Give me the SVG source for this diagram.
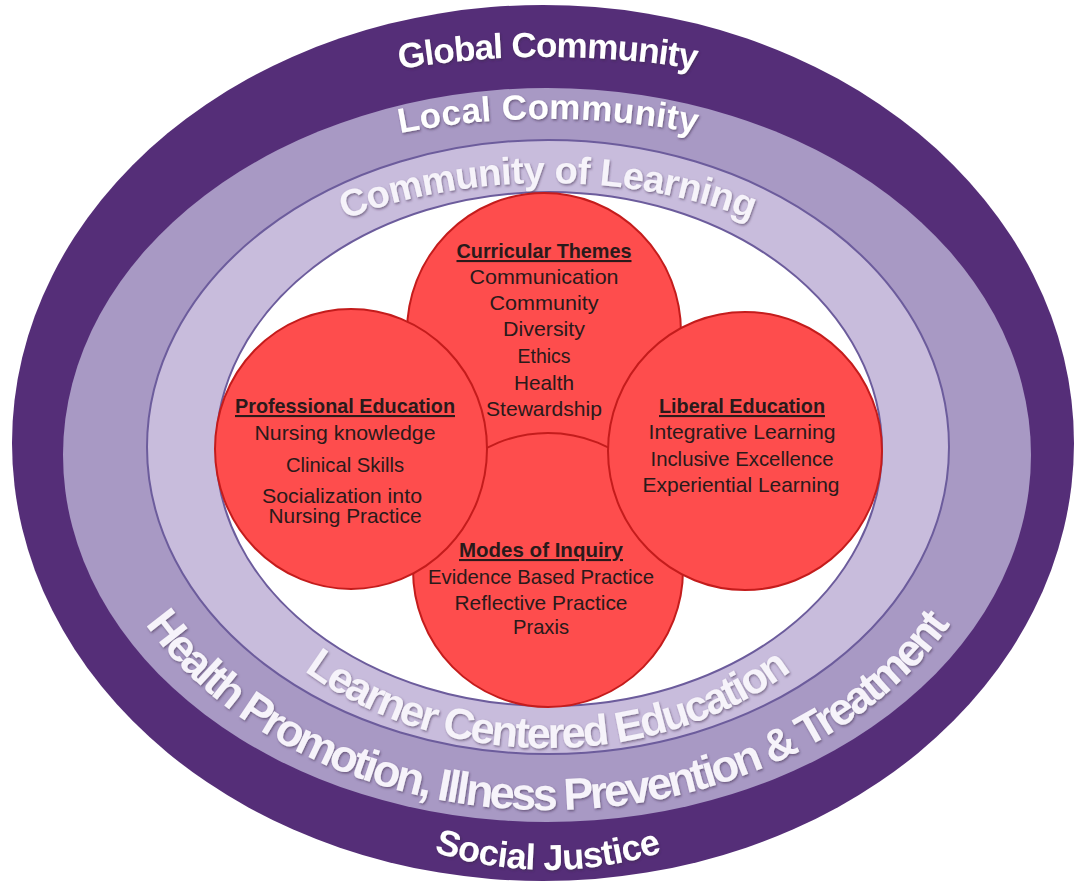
<svg xmlns="http://www.w3.org/2000/svg" width="1076" height="883" viewBox="0 0 1076 883">
<defs>
<style>
.ring-t{font-family:"Liberation Sans",Arial,sans-serif;font-weight:bold;fill:#ffffff;filter:url(#sh)}
.circ{fill:#fe4d4d;stroke:#c41c1c;stroke-width:2}
.ct{font-family:"Liberation Sans",Arial,sans-serif;font-size:21px;fill:#2a1a1a;text-anchor:middle}
.hd{font-weight:bold;text-decoration:underline}
</style>
<filter id="sh" x="-10%" y="-30%" width="120%" height="160%">
<feDropShadow dx="1" dy="1.5" stdDeviation="1.2" flood-color="#3a2a4a" flood-opacity="0.55"/>
</filter>
<path id="pGlobal" d="M -47,445 A 595,388 0 0 1 1143,445"/>
<path id="pLocal" d="M 42,445 A 506,326 0 0 1 1054,445"/>
<path id="pCoL" d="M 148,445 A 400,262 0 0 1 948,445"/>
<path id="pLearner" d="M 183,445 A 365,303 0 0 0 913,445"/>
<path id="pHealth" d="M 86,445 A 462,365 0 0 0 1010,445"/>
<path id="pSocial" d="M 148,445 A 400,425 0 0 0 948,445"/>
</defs>
<rect width="1076" height="883" fill="#ffffff"/>
<g id="rings">
<ellipse id="global-ring" cx="543" cy="443" rx="531" ry="438" fill="#552e78"/>
<ellipse id="health-ring" cx="547" cy="455" rx="484" ry="367" fill="#a899c4"/>
<ellipse id="learner-ring" cx="548" cy="447" rx="401" ry="307" fill="#c8bcdc" stroke="#6c5c9c" stroke-width="2"/>
<ellipse id="inner" cx="549" cy="449" rx="333" ry="257" fill="#ffffff" stroke="#6c5c9c" stroke-width="2"/>
</g>
<g id="ring-labels">
<text class="ring-t" font-size="35" textLength="298"><textPath href="#pGlobal" startOffset="50%" text-anchor="middle">Global Community</textPath></text>
<text class="ring-t" font-size="35" textLength="298"><textPath href="#pLocal" startOffset="50%" text-anchor="middle">Local Community</textPath></text>
<text class="ring-t" font-size="38" textLength="415" style="fill:#f6f3fa"><textPath href="#pCoL" startOffset="50%" text-anchor="middle">Community of Learning</textPath></text>
<text class="ring-t" font-size="43" textLength="520" style="fill:#f6f3fa"><textPath href="#pLearner" startOffset="50%" text-anchor="middle">Learner Centered Education</textPath></text>
<text class="ring-t" font-size="45" textLength="920" style="fill:#f6f3fa"><textPath href="#pHealth" startOffset="50%" text-anchor="middle">Health Promotion, Illness Prevention &amp; Treatment</textPath></text>
<text class="ring-t" font-size="36" textLength="232"><textPath href="#pSocial" startOffset="50%" text-anchor="middle">Social Justice</textPath></text>
</g>
<g id="curricular-themes">
<ellipse class="circ" cx="544" cy="332" rx="137" ry="139"/>
<text class="ct hd" x="544" y="258" textLength="175" lengthAdjust="spacingAndGlyphs">Curricular Themes</text>
<text class="ct" x="544" y="284" textLength="149" lengthAdjust="spacingAndGlyphs">Communication</text>
<text class="ct" x="544" y="310" textLength="109" lengthAdjust="spacingAndGlyphs">Community</text>
<text class="ct" x="544" y="336" textLength="82" lengthAdjust="spacingAndGlyphs">Diversity</text>
<text class="ct" x="544" y="363" textLength="53" lengthAdjust="spacingAndGlyphs">Ethics</text>
<text class="ct" x="544" y="390" textLength="60" lengthAdjust="spacingAndGlyphs">Health</text>
<text class="ct" x="544" y="416" textLength="116" lengthAdjust="spacingAndGlyphs">Stewardship</text>
</g>
<g id="modes-of-inquiry">
<ellipse class="circ" cx="548" cy="570" rx="135" ry="137"/>
<text class="ct hd" x="541" y="557" textLength="164" lengthAdjust="spacingAndGlyphs">Modes of Inquiry</text>
<text class="ct" x="541" y="584" textLength="226" lengthAdjust="spacingAndGlyphs">Evidence Based Practice</text>
<text class="ct" x="541" y="610" textLength="173" lengthAdjust="spacingAndGlyphs">Reflective Practice</text>
<text class="ct" x="541" y="634" textLength="56" lengthAdjust="spacingAndGlyphs">Praxis</text>
</g>
<g id="professional-education">
<ellipse class="circ" cx="351" cy="449" rx="136" ry="140"/>
<text class="ct hd" x="345" y="413" textLength="220" lengthAdjust="spacingAndGlyphs">Professional Education</text>
<text class="ct" x="345" y="440" textLength="181" lengthAdjust="spacingAndGlyphs">Nursing knowledge</text>
<text class="ct" x="345" y="472" textLength="118" lengthAdjust="spacingAndGlyphs">Clinical Skills</text>
<text class="ct" x="342" y="503" textLength="160" lengthAdjust="spacingAndGlyphs">Socialization into</text>
<text class="ct" x="345" y="523" textLength="153" lengthAdjust="spacingAndGlyphs">Nursing Practice</text>
</g>
<g id="liberal-education">
<ellipse class="circ" cx="745" cy="451" rx="137" ry="139"/>
<text class="ct hd" x="742" y="413" textLength="166" lengthAdjust="spacingAndGlyphs">Liberal Education</text>
<text class="ct" x="742" y="439" textLength="187" lengthAdjust="spacingAndGlyphs">Integrative Learning</text>
<text class="ct" x="742" y="466" textLength="183" lengthAdjust="spacingAndGlyphs">Inclusive Excellence</text>
<text class="ct" x="741" y="492" textLength="197" lengthAdjust="spacingAndGlyphs">Experiential Learning</text>
</g>
</svg>
